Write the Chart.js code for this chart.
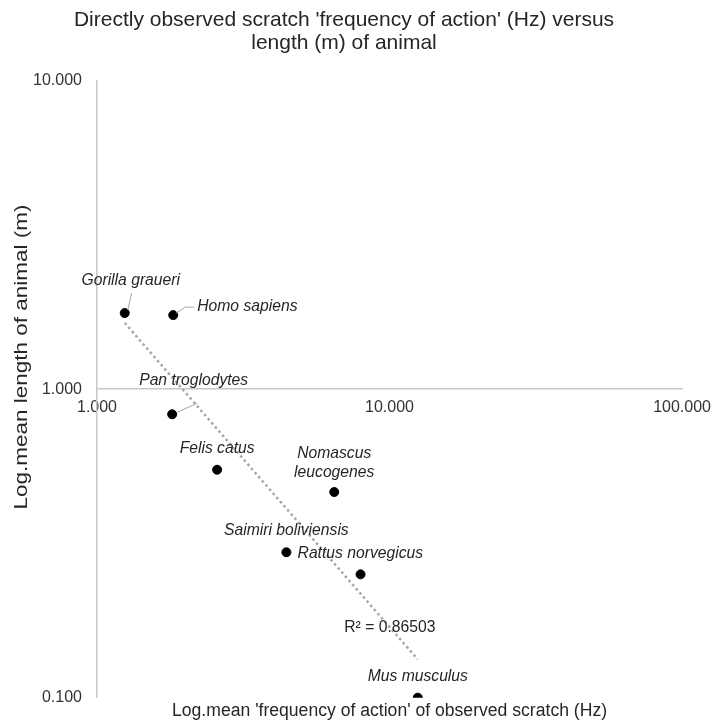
<!DOCTYPE html>
<html>
<head>
<meta charset="utf-8">
<title>Scratch frequency versus animal length</title>
<script src="https://cdn.jsdelivr.net/npm/chart.js@4/dist/chart.umd.min.js"></script>
<style>
  html, body { margin: 0; padding: 0; background: #ffffff; }
  #wrap { width: 720px; height: 725px; position: relative; }
</style>
</head>
<body>
<div id="wrap"><canvas id="chart" width="720" height="725"></canvas></div>
<script>
// ---- data ----
const chartTitle = ["Directly observed scratch 'frequency of action' (Hz) versus", "length (m) of animal"];
const xAxisTitle = "Log.mean 'frequency of action' of observed scratch (Hz)";
const yAxisTitle = "Log.mean length of animal (m)";

const species = [
  "Gorilla graueri",
  "Homo sapiens",
  "Pan troglodytes",
  "Felis catus",
  ["Nomascus", "leucogenes"],
  "Saimiri boliviensis",
  "Rattus norvegicus",
  "Mus musculus"
];
const frequencyHz = [1.244, 1.822, 1.807, 2.574, 6.47, 4.44, 7.96, 12.49];
const lengthM     = [1.765, 1.738, 0.829, 0.548, 0.464, 0.296, 0.251, 0.100];

// power trendline end points (start and end of the fitted line)
const trendFreq   = [1.244, 12.49];
const trendLength = [1.64, 0.133];
const rSquaredText = "R² = 0.86503";

const xTickValues = [1, 10, 100];
const yTickValues = [0.1, 1, 10];

// ---- styling ----
const FONT = "'Liberation Sans', Arial, Helvetica, sans-serif";
const AXIS_LINE = '#c8c8c8';
const TEXT_DARK = '#262626';
const TEXT_TICK = '#333333';
const LABEL_SIZE = 15.7;

// label placement relative to each point (px); leader = polyline from point to label
const labelLayout = [
  { dx: 6,   dy: -32, align: 'center', leader: [[3, -3], [7, -20]] },
  { dx: 24,  dy: -8,  align: 'left',   leader: [[3, -2], [12, -8], [21, -8]] },
  { dx: -33, dy: -34, align: 'left',   leader: [[5, -2], [25, -11]] },
  { dx: 0,   dy: -21, align: 'center' },
  { dx: 0,   dy: -29, align: 'center' },
  { dx: 0,   dy: -22, align: 'center' },
  { dx: -63, dy: -21, align: 'left' },
  { dx: 0,   dy: -21, align: 'center' }
];

// rotated y-axis title: centre position, font size and drawn length (glyphs stretched lengthwise)
const yTitleStyle = { x: 22, y: 357, size: 17.6, length: 305 };

const points = frequencyHz.map((f, i) => ({ x: f, y: lengthM[i] }));
const trendPoints = trendFreq.map((f, i) => ({ x: f, y: trendLength[i] }));

const fmt3 = v => Number(v).toFixed(3);

// draws the italic species labels, their leader lines, the R² text and the y title
const dataLabels = {
  id: 'dataLabels',
  afterDatasetsDraw(chart) {
    const ctx = chart.ctx;
    const meta = chart.getDatasetMeta(0);
    ctx.save();
    ctx.font = 'italic ' + LABEL_SIZE + 'px ' + FONT;
    ctx.fillStyle = TEXT_DARK;
    ctx.textBaseline = 'middle';
    meta.data.forEach((el, i) => {
      const lay = labelLayout[i];
      const px = el.x, py = el.y;
      if (lay.leader) {
        ctx.beginPath();
        ctx.strokeStyle = '#a6a6a6';
        ctx.lineWidth = 1;
        lay.leader.forEach(([lx, ly], k) => {
          if (k === 0) ctx.moveTo(px + lx, py + ly); else ctx.lineTo(px + lx, py + ly);
        });
        ctx.stroke();
      }
      ctx.textAlign = lay.align;
      const lines = Array.isArray(species[i]) ? species[i] : [species[i]];
      const lh = 19;
      const startY = py + lay.dy - (lines.length - 1) * lh / 2;
      lines.forEach((t, k) => ctx.fillText(t, px + lay.dx, startY + k * lh));
    });
    // R² beside the lower end of the trendline
    const tMeta = chart.getDatasetMeta(1);
    const end = tMeta.data[tMeta.data.length - 1];
    ctx.font = LABEL_SIZE + 'px ' + FONT;
    ctx.textAlign = 'center';
    ctx.fillText(rSquaredText, end.x - 28, end.y - 32);
    ctx.restore();
  },
  afterDraw(chart) {
    const ctx = chart.ctx;
    const s = yTitleStyle;
    ctx.save();
    ctx.translate(s.x, s.y);
    ctx.rotate(-Math.PI / 2);
    ctx.font = s.size + 'px ' + FONT;
    ctx.fillStyle = TEXT_DARK;
    ctx.textBaseline = 'middle';
    ctx.textAlign = 'center';
    const natural = ctx.measureText(yAxisTitle).width;
    ctx.scale(s.length / natural, 1);
    ctx.fillText(yAxisTitle, 0, 0);
    ctx.restore();
  }
};

new Chart(document.getElementById('chart'), {
  type: 'scatter',
  data: {
    datasets: [
      {
        label: 'species',
        data: points,
        backgroundColor: '#000000',
        borderColor: '#000000',
        pointRadius: 4.5,
        pointHoverRadius: 4.5,
        order: 0
      },
      {
        label: 'trend',
        data: trendPoints,
        showLine: true,
        borderColor: '#a6a6a6',
        borderWidth: 2.5,
        borderDash: [2.5, 3],
        borderCapStyle: 'butt',
        pointRadius: 0,
        fill: false,
        order: 1
      }
    ]
  },
  options: {
    responsive: false,
    animation: false,
    events: [],
    layout: { padding: { top: 0, left: 0, right: 32, bottom: 0 } },
    plugins: {
      legend: { display: false },
      tooltip: { enabled: false },
      title: {
        display: true,
        text: chartTitle,
        color: TEXT_DARK,
        font: { family: FONT, size: 21, weight: 'normal', lineHeight: 1.1 },
        padding: { top: 8.5, bottom: 26 }
      }
    },
    scales: {
      x: {
        type: 'logarithmic',
        position: { y: 1 },
        min: 1,
        max: 100,
        afterBuildTicks: s => { s.ticks = xTickValues.map(v => ({ value: v })); },
        grid: { display: false, drawTicks: false },
        border: { display: true, color: AXIS_LINE, width: 1.5 },
        ticks: {
          color: TEXT_TICK,
          font: { family: FONT, size: 16 },
          padding: 9,
          maxRotation: 0,
          autoSkip: false,
          callback: v => fmt3(v)
        }
      },
      xt: {
        type: 'logarithmic',
        position: 'bottom',
        min: 1,
        max: 100,
        grid: { display: false, drawTicks: false },
        border: { display: false },
        ticks: { display: false },
        title: {
          display: true,
          text: xAxisTitle,
          color: TEXT_DARK,
          font: { family: FONT, size: 17.6, lineHeight: 1.1 },
          padding: { top: 4, bottom: 4 }
        }
      },
      y: {
        type: 'logarithmic',
        position: 'left',
        min: 0.1,
        max: 10,
        afterBuildTicks: s => { s.ticks = yTickValues.map(v => ({ value: v })); },
        afterFit: s => { s.width = 97; },
        grid: { display: false, drawTicks: false },
        border: { display: true, color: AXIS_LINE, width: 1.5 },
        ticks: {
          color: TEXT_TICK,
          font: { family: FONT, size: 16 },
          padding: 15,
          autoSkip: false,
          callback: v => fmt3(v)
        },
        title: { display: false }
      }
    }
  },
  plugins: [dataLabels]
});
</script>
</body>
</html>
